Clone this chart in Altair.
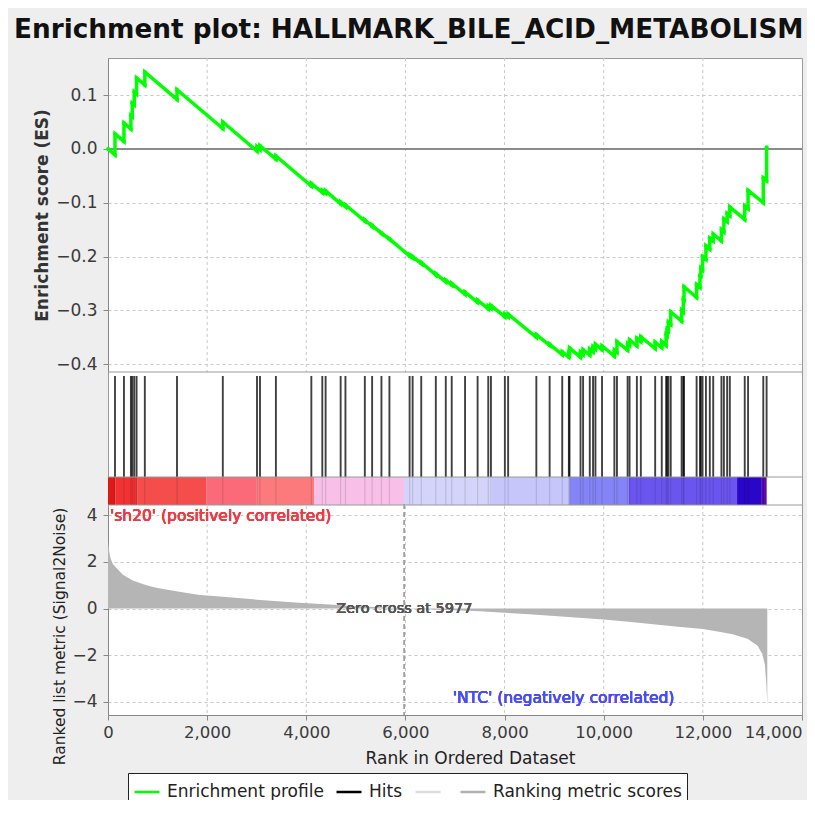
import altair as alt
import pandas as pd

TITLE = "Enrichment plot: HALLMARK_BILE_ACID_METABOLISM"

# ---------------- data ----------------
hit_ranks = [141, 322, 462, 489, 529, 576, 743, 1392, 2316, 3006, 3066, 3387,
             4102, 4323, 4390, 4693, 4790, 5181, 5328, 5516, 5677, 6084, 6145,
             6319, 6613, 6814, 6934, 7203, 7456, 7671, 7725, 8006, 8072, 8641,
             8909, 9163, 9297, 9310, 9532, 9584, 9719, 9785, 9833, 9966, 10215,
             10267, 10482, 10522, 10669, 10749, 11038, 11171, 11259, 11280,
             11305, 11352, 11572, 11606, 11620, 11874, 11942, 11960, 11994,
             12062, 12140, 12209, 12375, 12424, 12490, 12544, 12845, 12912,
             13219, 13286]

# running enrichment score: value just before and just after each hit
es_before = [-0.011, 0.014, 0.037, 0.060, 0.082, 0.102, 0.119, 0.092, 0.038,
             -0.004, -0.001, -0.019, -0.069, -0.081, -0.082, -0.102, -0.107,
             -0.134, -0.144, -0.157, -0.168, -0.199, -0.202, -0.213, -0.234,
             -0.247, -0.253, -0.270, -0.285, -0.297, -0.296, -0.312, -0.312,
             -0.350, -0.365, -0.382, -0.387, -0.380, -0.387, -0.382, -0.383,
             -0.377, -0.372, -0.373, -0.385, -0.378, -0.374, -0.365, -0.366,
             -0.358, -0.371, -0.369, -0.365, -0.347, -0.337, -0.326, -0.320,
             -0.303, -0.281, -0.276, -0.257, -0.237, -0.225, -0.205, -0.186,
             -0.171, -0.171, -0.154, -0.135, -0.124, -0.131, -0.111, -0.100,
             -0.059]
es_after = [0.028, 0.048, 0.062, 0.085, 0.106, 0.132, 0.143, 0.110, 0.050,
            0.004, 0.006, -0.013, -0.064, -0.077, -0.078, -0.099, -0.104,
            -0.132, -0.142, -0.156, -0.167, -0.197, -0.200, -0.211, -0.232,
            -0.244, -0.250, -0.266, -0.281, -0.292, -0.291, -0.307, -0.307,
            -0.345, -0.363, -0.377, -0.379, -0.370, -0.378, -0.373, -0.372,
            -0.368, -0.363, -0.366, -0.374, -0.358, -0.362, -0.355, -0.352,
            -0.349, -0.359, -0.358, -0.345, -0.335, -0.322, -0.303, -0.300,
            -0.280, -0.256, -0.252, -0.236, -0.222, -0.200, -0.180, -0.166,
            -0.158, -0.150, -0.130, -0.120, -0.108, -0.106, -0.077, -0.054,
            0.003]
es_start = 0.0

metric_ranks = [0, 20, 50, 100, 175, 300, 500, 700, 850, 1000, 1200, 1500,
                1850, 2200, 2500, 3000, 3500, 3850, 4200, 4550, 5000, 5500,
                5977, 6500, 7000, 7500, 8000, 8500, 9000, 9500, 10000, 10500,
                11000, 11500, 12000, 12300, 12600, 12900, 13100, 13200, 13250,
                13280, 13300]
metric_values = [2.85, 2.5, 2.15, 1.9, 1.72, 1.45, 1.2, 1.05, 0.95, 0.88, 0.8,
                 0.7, 0.58, 0.52, 0.47, 0.38, 0.3, 0.25, 0.2, 0.16, 0.1, 0.05,
                 0.0, -0.04, -0.07, -0.12, -0.18, -0.25, -0.32, -0.4, -0.47,
                 -0.57, -0.67, -0.78, -0.88, -0.98, -1.1, -1.3, -1.58, -1.95,
                 -2.4, -3.2, -4.15]

bar_starts = [0, 150, 600, 1990, 3000, 4160, 5970, 7740, 9310, 10500, 12690, 13190]
bar_ends = [150, 600, 1990, 3000, 4160, 5970, 7740, 9310, 10500, 12690, 13190, 13285]
bar_levels = list(range(12))

x_ticks = [0, 2000, 4000, 6000, 8000, 10000, 12000, 14000]
es_ticks = [-0.4, -0.3, -0.2, -0.1, 0.0, 0.1]
metric_ticks = [-4, -2, 0, 2, 4]
zero_cross = 5977
legend_names = ["Enrichment profile", "Hits", " ", "Ranking metric scores"]

# ---------------- tables ----------------
es_x, es_y = [0], [es_start]
for r, b, a in zip(hit_ranks, es_before, es_after):
    es_x += [r, r]
    es_y += [b, a]
es_df = pd.DataFrame({"rank": es_x, "es": es_y, "idx": range(len(es_x)),
                      "series": "Enrichment profile"})
hits_df = pd.DataFrame({"rank": hit_ranks})
metric_df = pd.DataFrame({"rank": metric_ranks, "metric": metric_values})
bar_df = pd.DataFrame({"rank": bar_starts, "end": bar_ends, "level": bar_levels})
grid_df = pd.DataFrame({"rank": x_ticks[1:-1]})

# ---------------- styling / layout ----------------
W, H = 694, 657
TOP_B = 314     # bottom of ES panel
HIT_T = 318
HIT_B = 419     # top of colour bar
BAR_B = 447
MET_T = 448     # top of metric panel
FONT = "DejaVu Sans"
bar_colors = ["#e01818", "#f23232", "#f54c4c", "#fa6a78", "#fc7a7c", "#f8bfe9",
              "#d4d4fa", "#c6c6fb", "#8484f6", "#6b55ef", "#2a06c8", "#5a0aa6"]
legend_colors = ["#00ff00", "#000000", "#dddddd", "#b0b0b0"]
GRID = "#c8c8c8"
LABEL = "#3a3a3a"

x_scale = alt.Scale(domain=[0, 14000], nice=False, zero=False)
es_scale = alt.Scale(domain=[-0.4145, 0.169], range=[TOP_B, 0], nice=False, zero=False)
met_scale = alt.Scale(domain=[-4.56, 4.39], range=[H, MET_T], nice=False, zero=False)

x_axis = alt.Axis(values=x_ticks, format=",d", grid=False, tickSize=5,
                  labelPadding=4, labelFontSize=16.5, labelFont=FONT,
                  labelColor=LABEL, domainColor="#888", tickColor="#888",
                  labelAlign=alt.ExprRef(expr=f"datum.value >= {x_ticks[-1]} ? 'right' : 'center'"),
                  title="Rank in Ordered Dataset", titleFont=FONT,
                  titleFontSize=17, titleFontWeight="normal", titleColor="#222",
                  titleX=362, titleAlign="center",
                  titleY=43, titleBaseline="middle", labelFlush=False)
X = alt.X("rank:Q", scale=x_scale, axis=x_axis)


def xd(v):
    return alt.datum(v, scale=x_scale, axis=x_axis)


# ES panel
es_axis = alt.Axis(values=es_ticks, format=".1f", orient="left", grid=True,
                   gridDash=[3, 3], gridColor=GRID, tickSize=5, labelPadding=6,
                   labelFontSize=17, labelFont=FONT, labelColor=LABEL,
                   domainColor="#888", tickColor="#888",
                   title="Enrichment score (ES)", titleFont=FONT,
                   titleFontSize=17, titleFontWeight="bold", titleColor="#333",
                   titleX=-66, titleY=TOP_B / 2, titleAngle=270,
                   titleAlign="center", titleBaseline="middle")

es_grid = alt.Chart(grid_df).mark_rule(color=GRID, strokeDash=[3, 3]).encode(
    x=X, y=alt.value(0), y2=alt.value(TOP_B))
es_zero = alt.Chart(grid_df).mark_rule(color="#8a8a8a", strokeWidth=1.2).encode(
    y=alt.datum(0, scale=es_scale, axis=es_axis), x=alt.value(0), x2=alt.value(W))
es_line = alt.Chart(es_df).mark_line(strokeWidth=3.5).encode(
    x=X, y=alt.Y("es:Q", scale=es_scale, axis=es_axis),
    order="idx:Q",
    stroke=alt.Stroke("series:N",
                      scale=alt.Scale(domain=legend_names, range=legend_colors),
                      legend=alt.Legend(
                          title=None, orient="none", legendX=20, legendY=715,
                          direction="horizontal", symbolType="stroke",
                          symbolSize=625, symbolStrokeWidth=2.5,
                          labelFontSize=17, labelFont=FONT, labelColor="#222",
                          labelLimit=400,
                          fillColor="white", strokeColor="#222", padding=5,
                          columnPadding=7, labelOffset=6,
                          labelExpr="datum.label == 'Hits' ? 'Hits" + "\u00a0" * 6 + "' : datum.label")))
es_pts = alt.Chart(es_df).mark_circle(size=16, color="#00ff00", opacity=1).encode(
    x=X, y=alt.Y("es:Q", scale=es_scale, axis=es_axis))
es_group = alt.layer(es_grid, es_zero, es_line, es_pts)

# hits + colour bar
hits = alt.Chart(hits_df).mark_rule(color="#000000", strokeWidth=1.9, opacity=0.75).encode(
    x=X, y=alt.value(HIT_T), y2=alt.value(HIT_B))
bar = alt.Chart(bar_df).mark_rect().encode(
    x=X, x2="end:Q",
    y=alt.value(HIT_B), y2=alt.value(BAR_B),
    fill=alt.Fill("level:O", scale=alt.Scale(domain=bar_levels, range=bar_colors),
                  legend=None))
hits_in_bar = alt.Chart(hits_df).mark_rule(color="#000000", strokeWidth=1.2, opacity=0.12).encode(
    x=X, y=alt.value(HIT_B), y2=alt.value(BAR_B))
seps = alt.Chart(pd.DataFrame({"p": [TOP_B, HIT_B, BAR_B]})).mark_rule(
    color="#9a9a9a").encode(y=alt.Y("p:Q", scale=None), x=alt.value(0), x2=alt.value(W))
mid_group = alt.layer(bar, hits_in_bar, hits, seps)

# metric panel
met_axis = alt.Axis(values=metric_ticks, format="d", orient="left", grid=True,
                    gridDash=[3, 3], gridColor=GRID, tickSize=5, labelPadding=6,
                    labelFontSize=17, labelFont=FONT, labelColor=LABEL,
                    domainColor="#888", tickColor="#888",
                    title="Ranked list metric (Signal2Noise)", titleFont=FONT,
                    titleFontSize=15.5, titleFontWeight="normal", titleColor="#222",
                    titleX=-49, titleY=578, titleAngle=270,
                    titleAlign="center", titleBaseline="middle")
met_grid = alt.Chart(grid_df).mark_rule(color=GRID, strokeDash=[3, 3]).encode(
    x=X, y=alt.value(MET_T), y2=alt.value(H))
met_area = alt.Chart(metric_df).mark_area(color="#b5b5b5", interpolate="linear").encode(
    x=X, y=alt.Y("metric:Q", scale=met_scale, axis=met_axis),
    y2=alt.datum(0))
zc_rule = alt.Chart(grid_df).mark_rule(color="#a0a0a0", strokeDash=[5, 3]).encode(
    x=xd(zero_cross), y=alt.value(MET_T - 2), y2=alt.value(H))
zc_text = alt.Chart(grid_df).mark_text(fontSize=14.5, font=FONT, color="#555").encode(
    x=xd(zero_cross), y=alt.datum(0, scale=met_scale, axis=met_axis),
    text=alt.value(f"Zero cross at {zero_cross}"))
pos_text = alt.Chart(grid_df).mark_text(fontSize=15.5, font=FONT, color="#ee3a44",
                                        align="left").encode(
    x=xd(40), y=alt.datum(3.95, scale=met_scale, axis=met_axis),
    text=alt.value("'sh20' (positively correlated)"))
neg_text = alt.Chart(grid_df).mark_text(fontSize=15.5, font=FONT, color="#4b4bf0",
                                        align="center").encode(
    x=xd(9190), y=alt.datum(-3.83, scale=met_scale, axis=met_axis),
    text=alt.value("'NTC' (negatively correlated)"))
met_group = alt.layer(met_grid, met_area, zc_rule, zc_text, pos_text, neg_text)

chart = alt.layer(es_group, mid_group, met_group).resolve_scale(
    y="independent", fill="independent", stroke="independent").resolve_axis(
    y="independent").properties(
    width=W, height=H,
    title=alt.TitleParams(TITLE, anchor="start", frame="group", dx=-94, offset=14,
                          fontSize=26.3, font=FONT, fontWeight="bold",
                          color="#111"),
    autosize=alt.AutoSizeParams(type="none"),
    padding={"left": 100, "top": 50, "right": 5, "bottom": 85},
    background="#eeeeee",
).configure_view(fill="white", stroke="#9a9a9a")

chart.save("out.html", embed_options={"renderer": "svg", "actions": False})
